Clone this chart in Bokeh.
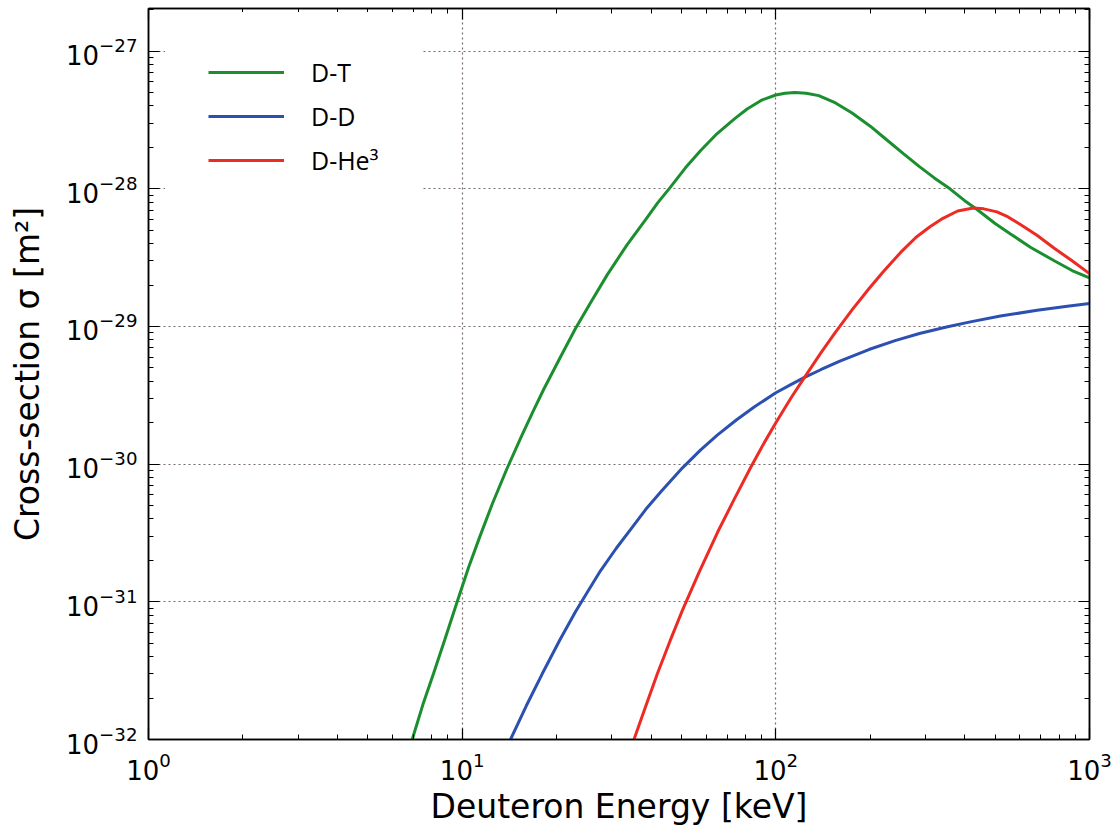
from bokeh.plotting import figure
from bokeh.models import (FixedTicker, LogAxis, LogTickFormatter, CustomJSTickFormatter,
                          Legend, LegendItem, Range1d)
from bokeh.embed import file_html
from bokeh.resources import INLINE

# ---- data (deuteron energy in keV, cross-section in m^2) ----
dt_energy = [6.93, 7.5, 8.1, 8.8, 9.64, 10.5, 11.4, 12.5, 13.9, 15.5, 16.8, 18.2, 20.5, 23.0,
             25.8, 29.0, 33.5, 38.5, 42.0, 46.0, 51.5, 57.6, 65.0, 73.8, 81.0, 90.0, 100.0,
             107.0, 115.0, 125.0, 137.0, 155.0, 175.0, 200.0, 224.0, 255.0, 287.0, 320.0,
             359.0, 400.0, 437.0, 500.0, 560.0, 650.0, 772.0, 880.0, 1000.0]
dt_sigma = [1.0e-32, 1.8e-32, 3.0e-32, 5.3e-32, 1.0e-31, 1.8e-31, 3.0e-31, 5.2e-31, 9.3e-31,
            1.62e-30, 2.4e-30, 3.5e-30, 5.9e-30, 9.7e-30, 1.52e-29, 2.37e-29, 3.9e-29, 6.0e-29,
            7.9e-29, 1.02e-28, 1.42e-28, 1.9e-28, 2.52e-28, 3.22e-28, 3.8e-28, 4.4e-28, 4.8e-28,
            4.95e-28, 5.0e-28, 4.95e-28, 4.75e-28, 4.2e-28, 3.55e-28, 2.85e-28, 2.3e-28,
            1.8e-28, 1.45e-28, 1.2e-28, 1.0e-28, 8.2e-29, 7.1e-29, 5.6e-29, 4.7e-29, 3.75e-29,
            3.0e-29, 2.55e-29, 2.25e-29]

dd_energy = [14.26, 16.0, 18.0, 20.5, 23.0, 25.2, 27.6, 31.0, 34.4, 38.5, 43.0, 50.4, 57.6,
             65.2, 75.0, 85.3, 100.0, 112.0, 123.0, 139.0, 160.0, 198.0, 240.0, 287.0, 350.0,
             417.0, 520.0, 681.0, 850.0, 1000.0]
dd_sigma = [1.0e-32, 1.75e-32, 3.0e-32, 5.3e-32, 8.5e-32, 1.2e-31, 1.68e-31, 2.45e-31, 3.35e-31,
            4.7e-31, 6.3e-31, 9.4e-31, 1.27e-30, 1.63e-30, 2.1e-30, 2.6e-30, 3.3e-30, 3.8e-30,
            4.25e-30, 4.85e-30, 5.6e-30, 6.8e-30, 7.9e-30, 8.9e-30, 9.9e-30, 1.08e-29, 1.19e-29,
            1.31e-29, 1.4e-29, 1.47e-29]

dhe_energy = [35.3, 38.5, 41.9, 46.0, 50.4, 57.0, 65.2, 73.5, 83.2, 91.0, 100.0, 112.0, 123.0,
              139.0, 155.0, 175.0, 198.0, 220.0, 250.0, 280.0, 310.0, 341.0, 380.0, 426.0,
              460.0, 507.0, 550.0, 602.0, 680.0, 772.0, 880.0, 1000.0]
dhe_sigma = [1.0e-32, 1.75e-32, 3.0e-32, 5.2e-32, 8.7e-32, 1.65e-31, 3.2e-31, 5.5e-31, 9.5e-31,
             1.38e-30, 2.0e-30, 3.05e-30, 4.22e-30, 6.4e-30, 9.1e-30, 1.32e-29, 1.88e-29, 2.5e-29,
             3.45e-29, 4.45e-29, 5.3e-29, 6.1e-29, 6.9e-29, 7.25e-29, 7.15e-29, 6.8e-29, 6.25e-29,
             5.5e-29, 4.6e-29, 3.7e-29, 3.0e-29, 2.42e-29]

series_names = ["D-T", "D-D", "D-He\u00b3"]
series_colors = ["#1b8f30", "#2b50b0", "#ec2c24"]

x_major = [1, 10, 100, 1000]
y_major = [1e-32, 1e-31, 1e-30, 1e-29, 1e-28, 1e-27]
x_minor = [m * d for d in [1, 10, 100] for m in range(2, 10)]
y_minor = [m * d for d in [1e-32, 1e-31, 1e-30, 1e-29, 1e-28, 1e-27] for m in range(2, 10)]

x_lo, x_hi = 1, 1000
y_lo, y_hi = 1e-32, 2.04e-27

p = figure(width=1117, height=830, x_axis_type="log", y_axis_type="log",
           x_range=Range1d(x_lo, x_hi), y_range=Range1d(y_lo, y_hi),
           output_backend="svg", toolbar_location=None,
           min_border_left=148, min_border_right=28, min_border_top=8, min_border_bottom=91)
p.background_fill_color = "white"
p.border_fill_color = "white"
p.outline_line_color = "black"
p.outline_line_width = 1.5

xt = FixedTicker(ticks=x_major, minor_ticks=x_minor)
yt = FixedTicker(ticks=y_major, minor_ticks=y_minor)

def style_axis(ax, ticker, show_labels):
    ax.ticker = ticker
    ax.axis_line_color = "black"
    ax.axis_line_width = 1.5
    ax.major_tick_in = 11
    ax.major_tick_out = 0
    ax.minor_tick_in = 5
    ax.minor_tick_out = 0
    ax.major_tick_line_color = "black"
    ax.minor_tick_line_color = "black"
    ax.major_tick_line_width = 1.2
    ax.minor_tick_line_width = 1.0
    if show_labels:
        ax.formatter = LogTickFormatter()
        ax.major_label_text_font = "DejaVu Sans"
        ax.major_label_text_font_size = "26px"
        ax.major_label_text_color = "black"
        ax.axis_label_text_font = "DejaVu Sans"
        ax.axis_label_text_font_size = "33px"
        ax.axis_label_text_font_style = "normal"
        ax.axis_label_text_color = "black"
    else:
        ax.formatter = CustomJSTickFormatter(code="return ' '")
        ax.major_label_text_font_size = "2px"
        ax.major_label_standoff = 0

xa = p.xaxis[0]
ya = p.yaxis[0]
style_axis(xa, xt, True)
style_axis(ya, yt, True)
xa.axis_label = "Deuteron Energy [keV]"
ya.axis_label = "Cross-section \u03c3 [m\u00b2]"
xa.major_label_standoff = 12
xa.axis_label_standoff = 4
ya.major_label_standoff = 11
ya.axis_label_standoff = 16

top_ax = LogAxis()
right_ax = LogAxis()
style_axis(top_ax, xt, False)
style_axis(right_ax, yt, False)
p.add_layout(top_ax, "above")
p.add_layout(right_ax, "right")

for g in [p.xgrid[0], p.ygrid[0]]:
    g.grid_line_color = "#776a6a"
    g.grid_line_dash = "2 3"
    g.grid_line_width = 1.2
p.xgrid[0].ticker = xt
p.ygrid[0].ticker = yt

r_dt = p.line(dt_energy, dt_sigma, line_width=3, line_color=series_colors[0])
r_dd = p.line(dd_energy, dd_sigma, line_width=3, line_color=series_colors[1])
r_dhe = p.line(dhe_energy, dhe_sigma, line_width=3, line_color=series_colors[2])

legend = Legend(items=[LegendItem(label=series_names[0], renderers=[r_dt]),
                       LegendItem(label=series_names[1], renderers=[r_dd]),
                       LegendItem(label=series_names[2], renderers=[r_dhe])],
                location=(17, 519))
legend.border_line_color = "white"
legend.border_line_width = 1
legend.background_fill_color = "white"
legend.background_fill_alpha = 1.0
legend.padding = 42
legend.margin = 0
legend.glyph_width = 76
legend.glyph_height = 30
legend.label_height = 30
legend.label_standoff = 27
legend.spacing = 10
legend.label_text_font = "Open Sans"
legend.label_text_font_size = "25px"
legend.label_text_color = "black"
p.add_layout(legend, "center")

open("out.html", "w").write(file_html(p, INLINE))
